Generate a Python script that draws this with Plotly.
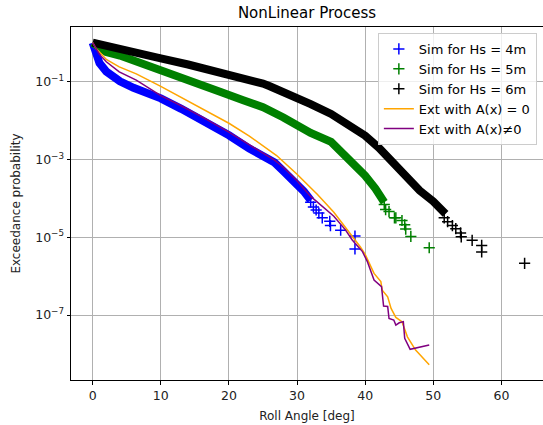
import numpy as np
import plotly.graph_objects as go

# ---- data (log10 of exceedance probability) ----
# Sim Hs = 4m : dense body + sparse tail
x4 = [0, 0.5, 1, 2, 3, 4, 6, 8, 10, 13, 16, 20, 23, 26.7, 28, 30, 31, 32]
l4 = [0, -0.36, -0.52, -0.74, -0.88, -0.99, -1.16, -1.30, -1.43, -1.70, -1.98,
      -2.38, -2.72, -3.08, -3.30, -3.62, -3.82, -4.05]
x4t = [32.0, 32.4, 32.8, 33.2, 33.7, 34.8, 34.9, 36.4, 38.5, 38.5]
l4t = [-4.10, -4.22, -4.30, -4.38, -4.50, -4.59, -4.70, -4.82, -4.97, -5.30]

# Sim Hs = 5m
x5 = [0, 1, 2, 4, 6, 8, 10, 13, 16, 19, 22, 25, 28, 30, 32, 35, 37.6, 40, 41.5, 42.8]
l5 = [0, -0.13, -0.24, -0.33, -0.45, -0.58, -0.72, -0.90, -1.08, -1.28, -1.47,
      -1.66, -1.92, -2.15, -2.32, -2.55, -3.0, -3.42, -3.75, -4.1]
x5t = [42.8, 43.0, 43.5, 44.3, 44.5, 45.4, 45.8, 45.95, 46.7, 49.4]
l5t = [-4.16, -4.29, -4.34, -4.50, -4.50, -4.57, -4.68, -4.79, -4.98, -5.27]

# Sim Hs = 6m
x6 = [0, 2, 5, 8, 10, 14, 18, 20, 23, 25, 26, 29, 32, 35, 38, 40, 42, 44, 46, 48, 50, 51.8]
l6 = [0, -0.09, -0.21, -0.32, -0.40, -0.56, -0.72, -0.80, -0.93, -1.05, -1.12,
      -1.33, -1.58, -1.83, -2.15, -2.39, -2.70, -3.08, -3.48, -3.80, -4.08, -4.40]
x6t = [51.6, 52.1, 52.8, 53.3, 54.0, 54.1, 55.7, 57.1, 57.1, 63.4]
l6t = [-4.50, -4.60, -4.70, -4.78, -4.89, -4.99, -5.08, -5.21, -5.38, -5.67]

# Ext with A(x) = 0
xo = [0, 0.5, 1, 2, 3.9, 6.4, 10, 13, 16, 20, 23, 27, 30, 33, 35.4, 37.4, 39.3, 40,
      41.3, 42.3, 42.5, 43.3, 43.8, 44.5, 45.4, 46.2, 47.4, 49.4]
lo = [0, -0.15, -0.24, -0.43, -0.62, -0.80, -1.12, -1.40, -1.69, -2.07, -2.40,
      -2.90, -3.38, -3.90, -4.36, -4.81, -5.25, -5.44, -5.93, -6.14, -6.36,
      -6.53, -6.83, -7.06, -7.17, -7.56, -7.90, -8.28]

# Ext with A(x) != 0
xp = [0, 1, 2, 3.9, 6.4, 10, 13, 16, 20, 23, 26.7, 28, 30, 32, 35.4, 37.1, 38.1,
      39.6, 40.3, 41.3, 41.8, 42.4, 42.7, 43.3, 43.5, 44.2, 44.5, 45.0, 45.6,
      45.8, 46.6, 49.4]
lp = [0, -0.30, -0.49, -0.75, -0.96, -1.36, -1.62, -1.90, -2.30, -2.62, -3.02,
      -3.20, -3.55, -3.95, -4.46, -4.81, -5.07, -5.37, -5.62, -6.10, -6.18,
      -6.27, -6.77, -6.78, -7.09, -7.13, -7.26, -7.20, -7.17, -7.60, -7.88, -7.77]

x_ticks = [0, 10, 20, 30, 40, 50, 60]
y_ticks = [1e-1, 1e-3, 1e-5, 1e-7]
y_tick_text = ["10<sup>\u22121</sup>", "10<sup>\u22123</sup>",
               "10<sup>\u22125</sup>", "10<sup>\u22127</sup>"]


def p(v):
    return 10.0 ** np.asarray(v, dtype=float)


series = [
    ("Sim for Hs = 4m", "#0000ff", x4, l4, x4t, l4t),
    ("Sim for Hs = 5m", "#008000", x5, l5, x5t, l5t),
    ("Sim for Hs = 6m", "#000000", x6, l6, x6t, l6t),
]

fig = go.Figure()
for name, col, xb, lb, xt, lt in series:
    fig.add_trace(go.Scatter(x=xb, y=p(lb), mode="lines", showlegend=False,
                             line=dict(color=col, width=8), legendgroup=name,
                             hoverinfo="skip"))
    fig.add_trace(go.Scatter(x=xt, y=p(lt), mode="markers", name=name,
                             legendgroup=name,
                             marker=dict(symbol="cross-thin", size=8, color=col,
                                         line=dict(color=col, width=1.5))))

fig.add_trace(go.Scatter(x=xo, y=p(lo), mode="lines", name="Ext with A(x) = 0",
                         line=dict(color="#ffa500", width=1.5)))
fig.add_trace(go.Scatter(x=xp, y=p(lp), mode="lines", name="Ext with A(x)\u22600",
                         line=dict(color="#800080", width=1.5)))

fig.update_layout(
    width=543, height=425,
    margin=dict(l=71, r=0, t=27, b=45),
    plot_bgcolor="white", paper_bgcolor="white",
    font=dict(family="DejaVu Sans", size=12, color="#222222"),
    title=dict(text="NonLinear Process", x=0.5, xref="paper", xanchor="center",
               y=1 - 13 / 425, yref="container", yanchor="middle",
               font=dict(size=15, color="black")),
    legend=dict(x=0.987, y=0.983, xanchor="right", yanchor="top",
                bgcolor="rgba(255,255,255,0.8)", bordercolor="#cccccc",
                borderwidth=1, font=dict(size=13, color="black"), itemwidth=30,
                tracegroupgap=0),
    showlegend=True,
)
fig.update_xaxes(range=[-3.18, 66.1], tickvals=x_ticks, showgrid=True,
                 gridcolor="#b0b0b0", gridwidth=0.8, zeroline=False,
                 showline=True, linecolor="black", linewidth=1, mirror=True,
                 ticks="outside", ticklen=3.5, tickcolor="black",
                 tickfont=dict(size=12.5),
                 title=dict(text="Roll Angle [deg]", standoff=10,
                            font=dict(size=12)))
fig.update_yaxes(type="log", range=[-8.67, 0.404], tickvals=y_ticks,
                 ticktext=y_tick_text, showgrid=True, gridcolor="#b0b0b0",
                 gridwidth=0.8, zeroline=False, showline=True,
                 linecolor="black", linewidth=1, mirror=False,
                 ticks="outside", ticklen=3.5, tickcolor="black",
                 tickfont=dict(size=12.5),
                 title=dict(text="Exceedance probability", standoff=11,
                            font=dict(size=12)))

fig.write_html("out.html", config={"displayModeBar": False},
               post_script="document.body.style.margin='0px';")
